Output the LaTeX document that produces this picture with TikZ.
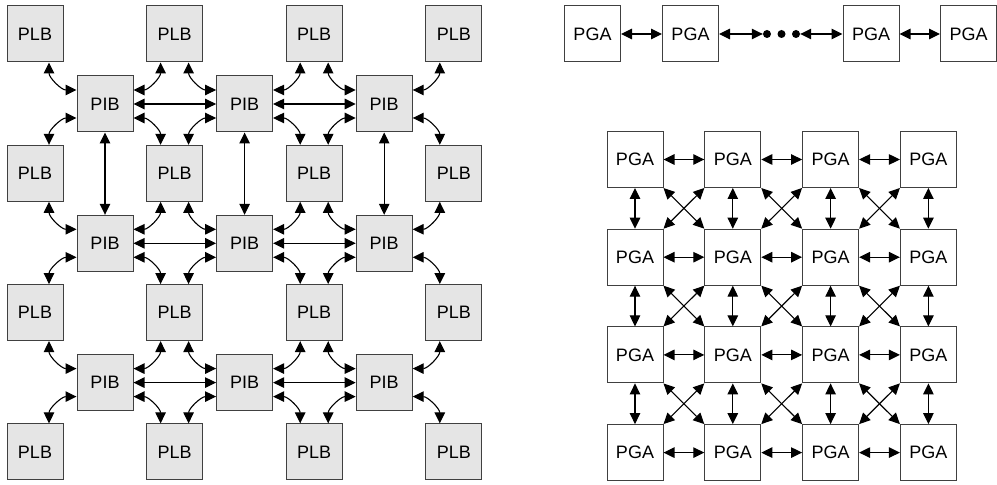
\documentclass[tikz,border=0pt]{standalone}
\usepackage{fontspec}
\setmainfont{Liberation Sans}
\usetikzlibrary{arrows.meta,calc}
\begin{document}
\begin{tikzpicture}[x=1pt,y=1pt,
  blk/.style={draw=black!75, fill=black!10, line width=1pt, minimum size=56pt, inner sep=0pt, font=\fontsize{18}{18}\selectfont},
  pga/.style={blk, fill=white},
  dotnode/.style={circle, fill=black, inner sep=0pt, minimum size=8pt},
  link/.style={line width=1.1pt, {Triangle[length=11pt,width=10.5pt]}-{Triangle[length=11pt,width=10.5pt]}}
]
\useasboundingbox (0,0) rectangle (997,485);
% left grid
\foreach \i in {0,...,3} \foreach \j in {0,...,3}
  \node[blk] (L\i\j) at ({35+139.6*\i},{485-34-139.3*\j}) {PLB};
\foreach \i in {0,1,2} \foreach \j in {0,1,2}
  \node[blk] (I\i\j) at ({105+139.6*\i},{485-104-139.3*\j}) {PIB};
\foreach \i/\ii in {0/1,1/2,2/3} \foreach \j/\jj in {0/1,1/2,2/3} {
  \draw[link] ($(L\i\j.south)+(14,0)$) to[out=-90,in=180] ($(I\i\j.west)+(0,14)$);
  \draw[link] ($(L\ii\j.south)+(-14,0)$) to[out=-90,in=0] ($(I\i\j.east)+(0,14)$);
  \draw[link] ($(I\i\j.west)+(0,-14)$) to[out=180,in=90] ($(L\i\jj.north)+(14,0)$);
  \draw[link] ($(I\i\j.east)+(0,-14)$) to[out=0,in=90] ($(L\ii\jj.north)+(-14,0)$);
}
\foreach \j in {0,1,2} {
  \draw[link] (I0\j) -- (I1\j);
  \draw[link] (I1\j) -- (I2\j);
}
\foreach \i in {0,1,2} \draw[link] (I\i0) -- (I\i1);
% chain
\foreach \k/\x in {1/592.5,2/690.5,3/871,4/968.5}
  \node[pga] (C\k) at (\x,451) {PGA};
\node[dotnode] (d1) at (767,451) {};
\node[dotnode] (d2) at (781.5,451) {};
\node[dotnode] (d3) at (796,451) {};
\draw[link] (C1) -- (C2);
\draw[link] (C2) -- (d1);
\draw[link] (d3) -- (C3);
\draw[link] (C3) -- (C4);
% PGA mesh
\foreach \i in {0,...,3} \foreach \j in {0,...,3}
  \node[pga] (G\i\j) at ({635+97.8*\i},{485-159.5-97.7*\j}) {PGA};
\foreach \i/\ii in {0/1,1/2,2/3} \foreach \j in {0,...,3}
  \draw[link] (G\i\j) -- (G\ii\j);
\foreach \i in {0,...,3} \foreach \j/\jj in {0/1,1/2,2/3}
  \draw[link] (G\i\j) -- (G\i\jj);
\foreach \i/\ii in {0/1,1/2,2/3} \foreach \j/\jj in {0/1,1/2,2/3} {
  \draw[link] (G\i\j.south east) -- (G\ii\jj.north west);
  \draw[link] (G\ii\j.south west) -- (G\i\jj.north east);
}
\end{tikzpicture}
\end{document}
